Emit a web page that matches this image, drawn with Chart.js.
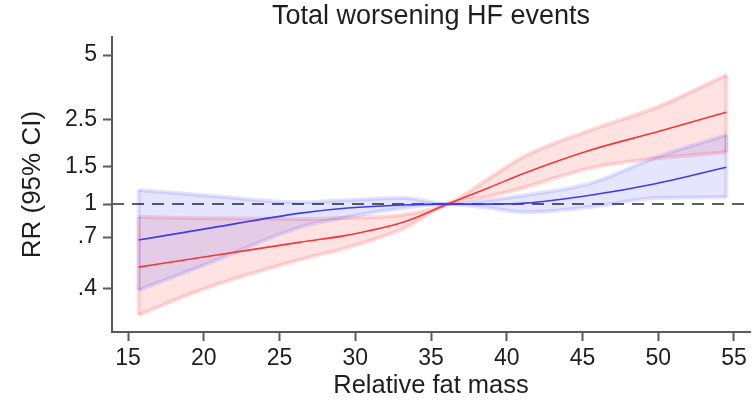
<!DOCTYPE html>
<html>
<head>
<meta charset="utf-8">
<script src="https://cdn.jsdelivr.net/npm/chart.js@4"></script>
<style>
  body { margin: 0; background: #fff; }
</style>
</head>
<body>
<canvas id="rfm" width="755" height="410"></canvas>
<script>
// Relative fat mass values where the curves were read
const fatMass = [15.7, 20, 26.4, 29.5, 33.2, 36.1, 38.9, 41.2, 45.5, 49.9, 54.5]

// red curve: RR and 95% CI
const redRR    = [0.506, 0.564, 0.663, 0.715, 0.823, 1.0, 1.20, 1.40, 1.79, 2.18, 2.70]
const redUpper = [0.869, 0.858, 0.850, 0.862, 0.892, 1.0, 1.33, 1.68, 2.22, 2.85, 4.03]
const redLower = [0.302, 0.400, 0.550, 0.625, 0.770, 1.0, 1.09, 1.20, 1.475, 1.64, 1.75]

// blue curve: RR and 95% CI
const blueRR    = [0.678, 0.763, 0.907, 0.958, 0.990, 1.0, 1.0, 1.01, 1.10, 1.25, 1.49]
const blueUpper = [1.163, 1.100, 1.020, 1.044, 1.067, 1.0, 1.044, 1.10, 1.25, 1.66, 2.11]
const blueLower = [0.395, 0.517, 0.780, 0.869, 0.958, 1.0, 0.958, 0.915, 0.968, 1.067, 1.078]

// axes
const xTicks = [15, 20, 25, 30, 35, 40, 45, 50, 55]
const yTicks = [0.4, 0.7, 1, 1.5, 2.5, 5]
const yTickLabels = [".4", ".7", "1", "1.5", "2.5", "5"]
const xRange = [13.94, 56.06]
const yRange = [0.251, 6.07]
const refValue = 1

const font = "'Liberation Sans', Arial, sans-serif"
const axisColor = 'rgb(90, 90, 90)'
const textColor = '#1e1e1e'

const pts = (ys) => fatMass.map((x, i) => ({ x: x, y: ys[i] }))
const edge = (i, lo, up) => [{ x: fatMass[i], y: lo[i] }, { x: fatMass[i], y: up[i] }]
const last = fatMass.length - 1

function band(lo, up, fillColor, lineColor, order) {
    const common = { borderColor: lineColor, borderWidth: 4, pointRadius: 0, cubicInterpolationMode: 'monotone', order: order }
    return [
        Object.assign({ data: pts(up), fill: '+1', backgroundColor: fillColor }, common),
        Object.assign({ data: pts(lo), fill: false }, common),
        Object.assign({ data: edge(0, lo, up), fill: false }, common),
        Object.assign({ data: edge(last, lo, up), fill: false }, common)
    ]
}

const ctx = document.getElementById("rfm").getContext("2d")
new Chart(ctx, {
    type: 'line',
    data: {
        datasets: [
            {
                // reference line at RR = 1
                data: [{ x: xRange[0], y: refValue }, { x: xRange[1], y: refValue }],
                borderColor: 'rgb(95, 95, 95)',
                borderWidth: 2,
                borderDash: [12, 8],
                pointRadius: 0,
                fill: false,
                order: 20
            },
            ...band(redLower, redUpper, 'rgba(255, 0, 0, 0.11)', 'rgba(255, 0, 0, 0.14)', 12),
            ...band(blueLower, blueUpper, 'rgba(0, 0, 255, 0.10)', 'rgba(0, 0, 255, 0.11)', 10),
            {
                data: pts(redRR),
                borderColor: 'rgb(245, 55, 55)',
                borderWidth: 1.6,
                pointRadius: 0,
                fill: false,
                cubicInterpolationMode: 'monotone',
                order: 2
            },
            {
                data: pts(blueRR),
                borderColor: 'rgb(60, 60, 235)',
                borderWidth: 1.6,
                pointRadius: 0,
                fill: false,
                cubicInterpolationMode: 'monotone',
                order: 1
            }
        ]
    },
    options: {
        responsive: false,
        animation: false,
        devicePixelRatio: 1,
        layout: { padding: { left: 0, right: 5, top: 0, bottom: 0 } },
        scales: {
            x: {
                type: 'linear',
                min: xRange[0],
                max: xRange[1],
                afterBuildTicks: (axis) => { axis.ticks = xTicks.map(v => ({ value: v })) },
                afterFit: (axis) => { axis.height = 78 },
                border: { display: true, color: axisColor, width: 2 },
                grid: { drawOnChartArea: false, drawTicks: true, tickLength: 9, tickColor: axisColor, tickWidth: 2 },
                ticks: { color: textColor, font: { family: font, size: 23 }, padding: 4, autoSkip: false, maxRotation: 0 },
                title: { display: true, text: 'Relative fat mass', color: textColor, font: { family: font, size: 25.5 }, padding: { top: 0, bottom: 9 } }
            },
            y: {
                type: 'logarithmic',
                min: yRange[0],
                max: yRange[1],
                afterBuildTicks: (axis) => { axis.ticks = yTicks.map(v => ({ value: v })) },
                afterFit: (axis) => { axis.width = 112 },
                border: { display: true, color: axisColor, width: 2 },
                grid: { drawOnChartArea: false, drawTicks: true, tickLength: 9, tickColor: axisColor, tickWidth: 2 },
                ticks: {
                    color: textColor,
                    font: { family: font, size: 23 },
                    padding: 6,
                    autoSkip: false,
                    callback: (value, index) => yTickLabels[index]
                },
                title: { display: true, text: 'RR (95% CI)', color: textColor, font: { family: font, size: 26 }, padding: { top: 17, bottom: 0 } }
            }
        },
        plugins: {
            legend: { display: false },
            tooltip: { enabled: false },
            title: {
                display: true,
                fullSize: false,
                text: 'Total worsening HF events',
                color: textColor,
                font: { family: font, size: 27, weight: 'normal' },
                padding: { top: 0, bottom: 4.8 }
            }
        }
    }
});
</script>
</body>
</html>
